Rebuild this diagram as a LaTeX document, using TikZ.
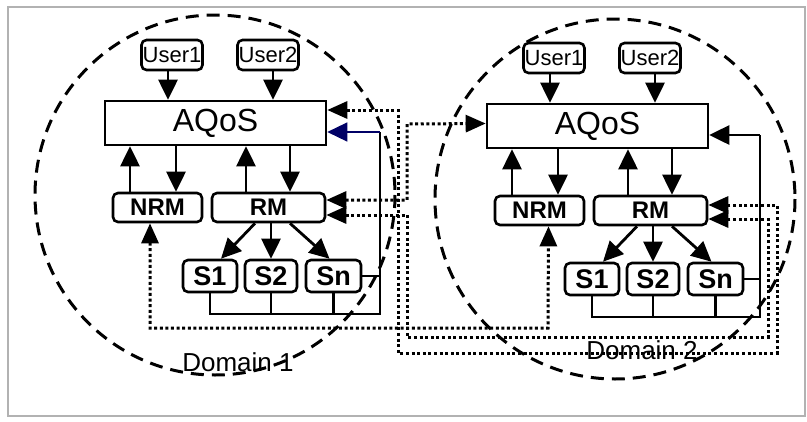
\documentclass[tikz,border=0pt]{standalone}
\usepackage{fontspec}
\setmainfont{Liberation Sans}
\usetikzlibrary{arrows.meta,calc}
\begin{document}
\begin{tikzpicture}[x=1pt,y=-1pt,
  box/.style={draw, line width=2.6pt, rounded corners=5pt, inner sep=0pt, fill=white},
  userbox/.style={box, minimum width=61pt, minimum height=30pt, font=\fontsize{22}{22}\selectfont},
  mgr/.style={box, minimum height=29pt, font=\fontsize{24}{24}\selectfont\bfseries},
  srv/.style={box, minimum width=54pt, minimum height=32pt, font=\fontsize{27}{27}\selectfont\bfseries},
  aqos/.style={draw, line width=2.6pt, inner sep=0pt, fill=white, minimum width=221pt, minimum height=44pt, font=\fontsize{32}{32}\selectfont},
  arr/.style={line width=2.8pt, -{Triangle[length=20pt,width=19pt]}},
  bus/.style={line width=2.8pt},
  dotl/.style={line width=3pt, dash pattern=on 3pt off 2.6pt, {Triangle[length=20pt,width=17pt]}-{Triangle[length=20pt,width=17pt]}},
  domainc/.style={line width=3pt, dash pattern=on 13pt off 8pt},
  dlabel/.style={font=\fontsize{26}{26}\selectfont, inner sep=0pt}
]
\useasboundingbox (0,0) rectangle (807,421);
\draw[gray!60, line width=1.2pt] (8,7) rectangle (805,416);

% domain circles
\draw[domainc] (215,195) circle[radius=180];
\draw[domainc] (615,199) circle[radius=180];
\node[dlabel] (L1) at (238,362) {Domain 1};
\node[dlabel] (L2) at (642,350) {Domain 2};

\foreach \d/\dx/\dy/\fbx/\fbc/\fbw in {a/0/0/380/blue!40!black/1.4pt, b/382/3/378/black/2.8pt} {
 \begin{scope}[shift={(\dx,\dy)}]
  \node[userbox] (U1\d) at (172,55) {User1};
  \node[userbox] (U2\d) at (268,55) {User2};
  \node[aqos] (AQ\d) at (215.5,123) {AQoS};
  \node[mgr, minimum width=89pt] (NRM\d) at (157.5,207.5) {NRM};
  \node[mgr, minimum width=113pt] (RM\d) at (268.5,207.5) {RM};
  \node[srv] (S1\d) at (210,276) {S1};
  \node[srv, minimum width=52pt] (S2\d) at (271,276) {S2};
  \node[srv, minimum width=55pt] (Sn\d) at (333.5,276) {Sn};
  % users to AQoS
  \coordinate (ua\d) at ([xshift=-4pt]U1\d.south);
  \coordinate (ub\d) at ([xshift=5pt]U2\d.south);
  \draw[arr] (ua\d) -- (ua\d |- AQ\d.north);
  \draw[arr] (ub\d) -- (ub\d |- AQ\d.north);
  % NRM / RM to AQoS
  \coordinate (nu\d) at ([xshift=-27.5pt]NRM\d.north);
  \coordinate (nd\d) at ([xshift=18.5pt]NRM\d.north);
  \coordinate (ru\d) at ([xshift=-22.5pt]RM\d.north);
  \coordinate (rd\d) at ([xshift=21.5pt]RM\d.north);
  \draw[arr] (nu\d) -- (nu\d |- AQ\d.south);
  \draw[arr] (nd\d |- AQ\d.south) -- (nd\d);
  \draw[arr] (ru\d) -- (ru\d |- AQ\d.south);
  \draw[arr] (rd\d |- AQ\d.south) -- (rd\d);
  % RM to servers
  \draw[arr] ([xshift=-13.5pt]RM\d.south) -- ([xshift=11pt]S1\d.north);
  \draw[arr] (S2\d.north |- RM\d.south) -- (S2\d.north);
  \draw[arr] ([xshift=21.5pt]RM\d.south) -- ([xshift=-4pt]Sn\d.north);
  % server bus and feedback
  \coordinate (bus\d) at (\fbx,314);
  \coordinate (fb\d) at (\fbx,132);
  \draw[bus] (S1\d.south) |- (bus\d) -- (fb\d);
  \draw[bus] (S2\d.south) -- (S2\d.south |- bus\d);
  \draw[bus] (Sn\d.south) -- (Sn\d.south |- bus\d);
  \draw[bus] (Sn\d.east) -- (Sn\d.east -| bus\d);
  \draw[arr, draw=\fbc, line width=\fbw] (fb\d) -- (fb\d -| AQ\d.east);
 \end{scope}
}

% inter-domain dotted links
\draw[dotl] ([yshift=13pt]AQa.east) -- (398,110) -- (398,353) -- (777,353) -- (777,205) -- ([yshift=5.5pt]RMb.east);
\draw[dotl] ([yshift=7.5pt]RMa.east) -- (407,200) -- (407,124) -- ([yshift=2.5pt]AQb.west);
\draw[dotl] ([yshift=-7.5pt]RMa.east) -- (407,215) -- (407,337) -- (768,337) -- (768,219) -- ([yshift=-8.5pt]RMb.east);
\draw[dotl] ([xshift=-7.5pt]NRMa.south) -- (150,328) -- (548,328) -- ([xshift=9pt]NRMb.south);
\end{tikzpicture}
\end{document}
